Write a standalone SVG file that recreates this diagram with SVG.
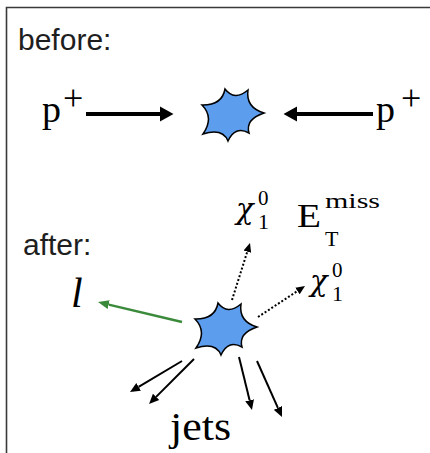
<svg xmlns="http://www.w3.org/2000/svg" width="430" height="453" viewBox="0 0 430 453">
<style>
.frame{fill:none;stroke:#3a3a3a;stroke-width:1.6}
.star{fill:#5d9ded;stroke:#000;stroke-width:1.5;stroke-linejoin:miter}
.lbl{font-family:"Liberation Sans",Arial,sans-serif;font-size:30px;fill:#1e1e1e}
.m{font-family:"Liberation Serif","Times New Roman",serif;fill:#000}
.chi{font-family:"DejaVu Serif","Liberation Serif",serif;font-style:italic;fill:#000}
.mi{font-family:"Liberation Serif","Times New Roman",serif;font-style:italic;fill:#000}
.beam{stroke:#000;stroke-width:4;fill:none}
.jet{stroke:#000;stroke-width:2;fill:none}
.lep{stroke:#3b8a3b;stroke-width:2.5;fill:none}
.inv{stroke:#000;stroke-width:2;stroke-dasharray:2 2;fill:none}
</style>
<defs>
<path id="burst" d="M-30,-10 Q-9.9,-9.6 -7,-26 Q2.4,-13.7 16,-25 Q13.5,-7.6 32,-2 Q13.1,4.3 17,18 Q3.1,10.5 -4,26 Q-9.4,12.8 -29,19 Q-17.6,2.7 -30,-10 Z"/>
<marker id="hBig" viewBox="0 -8 14 16" refX="0" refY="0" markerWidth="14" markerHeight="16" markerUnits="userSpaceOnUse" orient="auto"><path d="M0,-7.5 L13.5,0 L0,7.5 Z" fill="#000"/></marker>
<marker id="hJet" viewBox="0 -5 11 10" refX="0" refY="0" markerWidth="11" markerHeight="10" markerUnits="userSpaceOnUse" orient="auto"><path d="M0,-4.5 L10,0 L0,4.5 Z" fill="#000"/></marker>
<marker id="hLep" viewBox="0 -5 12 10" refX="0" refY="0" markerWidth="12" markerHeight="10" markerUnits="userSpaceOnUse" orient="auto"><path d="M0,-4.5 L11,0 L0,4.5 Z" fill="#3b8a3b"/></marker>
<marker id="hInv" viewBox="0 -5 10 10" refX="0" refY="0" markerWidth="10" markerHeight="10" markerUnits="userSpaceOnUse" orient="auto"><path d="M0,-4 L9,0 L0,4 Z" fill="#000"/></marker>
</defs>
<path class="frame" d="M6.5,453 V7.5 H430"/>
<text class="lbl" x="18" y="50">before:</text>
<text class="lbl" x="23" y="255">after:</text>
<g id="proton-left">
<text class="m" x="42" y="122" font-size="38">p</text>
<text class="m" x="63" y="110" font-size="36">+</text>
</g>
<g id="proton-right">
<text class="m" x="376" y="122" font-size="38">p</text>
<text class="m" x="401" y="110" font-size="36">+</text>
</g>
<g id="collision-before"><use href="#burst" class="star" transform="translate(232,115)"/></g>
<g id="collision-after"><use href="#burst" class="star" transform="translate(225,329)"/></g>
<g id="lepton"><text class="mi" x="71" y="307" font-size="42">l</text></g>
<g id="chi-top">
<text class="chi" x="236" y="219" font-size="29">χ</text>
<text class="m" x="258" y="205" font-size="21">0</text>
<text class="m" x="258" y="229" font-size="22">1</text>
</g>
<g id="met">
<text class="m" x="297" y="227" font-size="33" textLength="24" lengthAdjust="spacingAndGlyphs">E</text>
<text class="m" x="325" y="208" font-size="22" textLength="55" lengthAdjust="spacingAndGlyphs">miss</text>
<text class="m" x="325" y="246" font-size="22">T</text>
</g>
<g id="chi-right">
<text class="chi" x="310" y="291" font-size="29">χ</text>
<text class="m" x="332" y="277" font-size="21">0</text>
<text class="m" x="332" y="301" font-size="22">1</text>
</g>
<g id="jets"><text class="m" x="170" y="440" font-size="40" textLength="61" lengthAdjust="spacingAndGlyphs">jets</text></g>
<g id="connectors">
<path class="beam" d="M86,114 H160" marker-end="url(#hBig)"/>
<path class="beam" d="M373,114 H297" marker-end="url(#hBig)"/>
<path class="lep" d="M182,322 L108.7,304.6" marker-end="url(#hLep)"/>
<path class="inv" d="M232,300 L247.3,251.6" marker-end="url(#hInv)"/>
<path class="inv" d="M258,317 L297.5,291" marker-end="url(#hInv)"/>
<path class="jet" d="M182,361 L138.6,386.9" marker-end="url(#hJet)"/>
<path class="jet" d="M194,359 L156.1,396.9" marker-end="url(#hJet)"/>
<path class="jet" d="M239,357 L249.6,400.3" marker-end="url(#hJet)"/>
<path class="jet" d="M257,361 L277.9,407.9" marker-end="url(#hJet)"/>
</g>
</svg>
